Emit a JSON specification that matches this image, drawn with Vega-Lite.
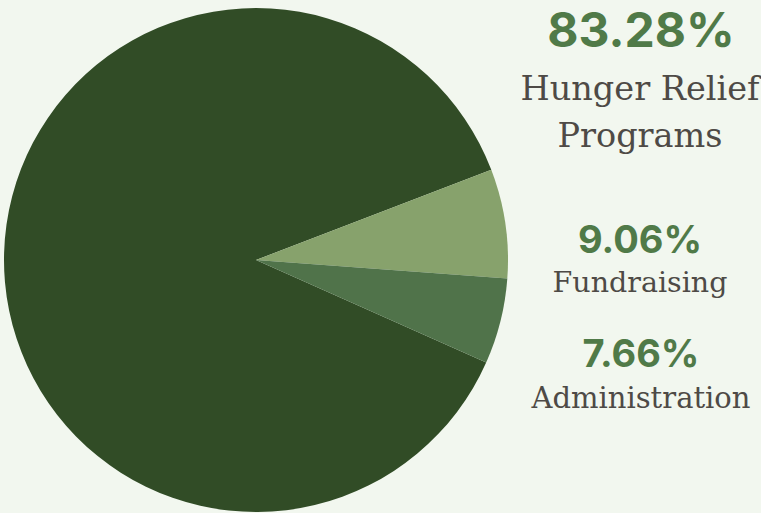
{
  "$schema": "https://vega.github.io/schema/vega-lite/v6.json",
  "width": 761,
  "height": 513,
  "autosize": {"type": "none"},
  "padding": 0,
  "background": "#F2F7EF",
  "config": {"view": {"stroke": null}},
  "data": {
    "values": [
      {"category": "Hunger Relief Programs", "name": "Hunger Relief\nPrograms", "label": "83.28%", "share": 87.5},
      {"category": "Fundraising", "name": "Fundraising", "label": "9.06%", "share": 7.0},
      {"category": "Administration", "name": "Administration", "label": "7.66%", "share": 5.5}
    ]
  },
  "layer": [
    {
      "mark": {"type": "arc", "x": 256, "y": 260, "outerRadius": 252},
      "encoding": {
        "theta": {"field": "share", "type": "quantitative", "stack": true, "scale": {"range": [1.990, 8.273]}},
        "order": {"field": "share", "sort": "descending"},
        "color": {
          "field": "category",
          "type": "nominal",
          "scale": {
            "domain": ["Hunger Relief Programs", "Fundraising", "Administration"],
            "range": ["#314C26", "#87A26C", "#50734A"]
          },
          "legend": null
        }
      }
    },
    {
      "transform": [{"filter": "datum.category === 'Hunger Relief Programs'"}],
      "layer": [
        {
          "mark": {"type": "text", "x": 641, "y": 47, "align": "center", "baseline": "alphabetic", "font": "Inter", "fontWeight": "bold", "fontSize": 48, "color": "#507A48"},
          "encoding": {"text": {"field": "label", "type": "nominal"}}
        },
        {
          "mark": {"type": "text", "x": 640, "y": 100, "align": "center", "baseline": "alphabetic", "font": "DejaVu Serif", "fontSize": 33.5, "lineHeight": 47, "lineBreak": "\n", "color": "#4E4A46"},
          "encoding": {"text": {"field": "name", "type": "nominal"}}
        }
      ]
    },
    {
      "transform": [{"filter": "datum.category === 'Fundraising'"}],
      "layer": [
        {
          "mark": {"type": "text", "x": 640, "y": 253, "align": "center", "baseline": "alphabetic", "font": "Inter", "fontWeight": "bold", "fontSize": 38, "color": "#507A48"},
          "encoding": {"text": {"field": "label", "type": "nominal"}}
        },
        {
          "mark": {"type": "text", "x": 640, "y": 292, "align": "center", "baseline": "alphabetic", "font": "DejaVu Serif", "fontSize": 28.5, "color": "#4E4A46"},
          "encoding": {"text": {"field": "name", "type": "nominal"}}
        }
      ]
    },
    {
      "transform": [{"filter": "datum.category === 'Administration'"}],
      "layer": [
        {
          "mark": {"type": "text", "x": 641, "y": 367, "align": "center", "baseline": "alphabetic", "font": "Inter", "fontWeight": "bold", "fontSize": 38, "color": "#507A48"},
          "encoding": {"text": {"field": "label", "type": "nominal"}}
        },
        {
          "mark": {"type": "text", "x": 641, "y": 408, "align": "center", "baseline": "alphabetic", "font": "DejaVu Serif", "fontSize": 29, "color": "#4E4A46"},
          "encoding": {"text": {"field": "name", "type": "nominal"}}
        }
      ]
    }
  ]
}
